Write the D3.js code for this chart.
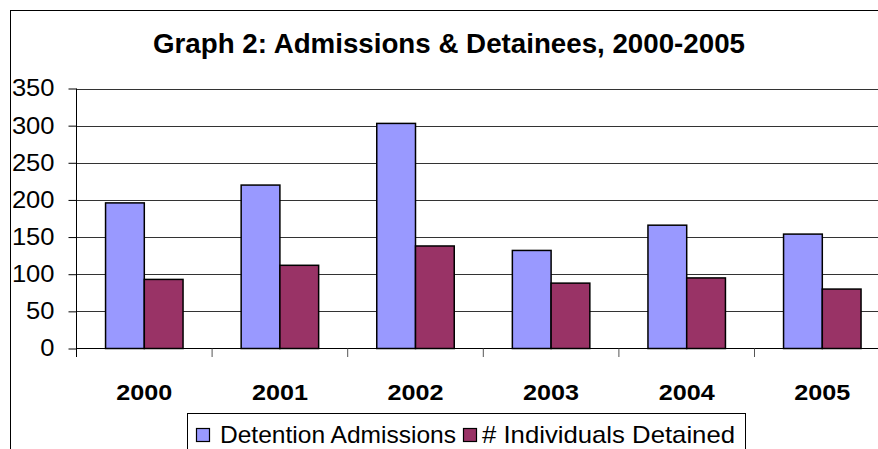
<!DOCTYPE html>
<html><head><meta charset="utf-8">
<script src="https://cdn.jsdelivr.net/npm/d3@7"></script>
<style>
html,body{margin:0;padding:0;background:#fff;overflow:hidden;}
svg{display:block;}
svg text{font-family:"Liberation Sans",Arial,Helvetica,sans-serif;}
</style></head>
<body>
<svg id="chart" width="878" height="449"></svg>
<script>
const title = "Graph 2: Admissions & Detainees, 2000-2005";
const categories = ["2000","2001","2002","2003","2004","2005"];
const seriesNames = ["Detention Admissions","# Individuals Detained"];
const admissions = [196, 220, 303, 132, 166, 154];
const detained = [93, 112, 138, 88, 95, 80];
const yTicks = [0,50,100,150,200,250,300,350];
const colors = ["#9999FF","#993366"];
const FONT = "'Liberation Sans', Arial, Helvetica, sans-serif";

const svg = d3.select("#chart");
// outer chart border (extends past right/bottom edges)
svg.append("rect").attr("x",10.5).attr("y",10.5).attr("width",900).attr("height",500)
  .attr("fill","none").attr("stroke","#000").attr("stroke-width",1);

const x0 = 76.5, step = 135.6;
const x = d3.scaleBand().domain(categories).range([x0, x0 + step*categories.length]).padding(0);
const w = step/3.5;
const xs = d3.scaleBand().domain(seriesNames).range([0.75*w, step-0.75*w]).padding(0);
const y = d3.scaleLinear().domain([0,350]).range([348.5, 88.5]);

// gridlines
svg.append("g").selectAll("line").data(yTicks.filter(d=>d>0)).join("line")
  .attr("x1",x0).attr("x2",900).attr("y1",d=>Math.round(y(d))+0.5).attr("y2",d=>Math.round(y(d))+0.5)
  .attr("stroke","#333").attr("stroke-width",1);

// y axis
const yAxis = d3.axisLeft(y).tickValues(yTicks).tickSize(8).tickPadding(14).tickFormat(d3.format("d"));
const gy = svg.append("g").attr("transform",`translate(${x0},0)`).call(yAxis);
gy.attr("font-family",FONT);
gy.select(".domain").remove();
gy.selectAll(".tick line").attr("stroke","#000");
gy.selectAll(".tick text").attr("font-size",23).attr("fill","#000")
  .attr("font-family",FONT)
  .attr("textLength",d=>String(d).length*14.2).attr("lengthAdjust","spacingAndGlyphs");
svg.append("line").attr("x1",x0).attr("x2",x0).attr("y1",y(350)).attr("y2",357).attr("stroke","#000");

// bars
const data = categories.map((c,i)=>({cat:c, vals:[admissions[i], detained[i]]}));
const groups = svg.append("g").selectAll("g").data(data).join("g")
  .attr("transform",d=>`translate(${x(d.cat)},0)`);
groups.selectAll("rect").data(d=>d.vals.map((v,j)=>({v, s:seriesNames[j], j}))).join("rect")
  .attr("x",d=>xs(d.s)).attr("width",xs.bandwidth())
  .attr("y",d=>y(d.v)).attr("height",d=>y(0)-y(d.v))
  .attr("fill",d=>colors[d.j]).attr("stroke","#000").attr("stroke-width",1.5);

// x axis
const xAxis = d3.axisBottom(x).tickSize(0).tickPadding(0);
const gx = svg.append("g").attr("transform",`translate(0,${y(0)})`).call(xAxis);
gx.attr("font-family",FONT);
gx.select(".domain").remove();
gx.selectAll(".tick text").attr("font-size",22).attr("font-weight","bold").attr("fill","#000")
  .attr("font-family",FONT)
  .attr("dy",null).attr("y",51)
  .attr("textLength",56).attr("lengthAdjust","spacingAndGlyphs");
svg.append("line").attr("x1",x0).attr("x2",900).attr("y1",y(0)).attr("y2",y(0)).attr("stroke","#000");
// category boundary tick marks
svg.append("g").selectAll("line").data(categories.slice(1).concat(["_end"])).join("line")
  .attr("x1",(d,i)=>x0+step*(i+1)).attr("x2",(d,i)=>x0+step*(i+1))
  .attr("y1",y(0)).attr("y2",357).attr("stroke","#555");

// title
svg.append("text").attr("x",449).attr("y",53).attr("text-anchor","middle")
  .attr("font-family",FONT)
  .attr("font-size",27).attr("font-weight","bold").attr("fill","#000")
  .attr("textLength",592).attr("lengthAdjust","spacingAndGlyphs").text(title);

// legend
const lg = svg.append("g");
lg.append("rect").attr("x",187.5).attr("y",413.5).attr("width",558).attr("height",60)
  .attr("fill","#fff").attr("stroke","#000").attr("stroke-width",1);
const legendItems = [
  {name:seriesNames[0], color:colors[0], mx:196, tx:220, tl:236},
  {name:seriesNames[1], color:colors[1], mx:463, tx:482, tl:253}
];
legendItems.forEach(it=>{
  lg.append("rect").attr("x",it.mx+0.5).attr("y",428.5).attr("width",13).attr("height",13)
    .attr("fill",it.color).attr("stroke","#000").attr("stroke-width",1.2);
  lg.append("text").attr("x",it.tx).attr("y",443).attr("font-size",24).attr("fill","#000")
    .attr("font-family",FONT)
    .attr("textLength",it.tl).attr("lengthAdjust","spacingAndGlyphs").text(it.name);
});
</script>
</body></html>
